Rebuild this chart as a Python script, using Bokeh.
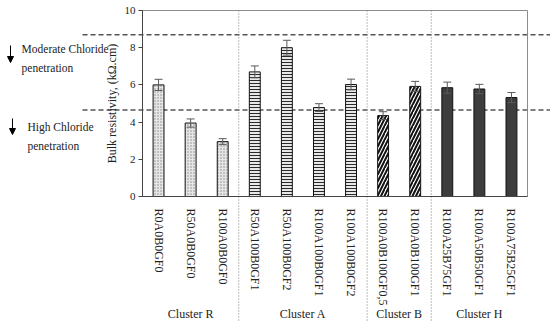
from bokeh.plotting import figure
from bokeh.models import (Range1d, ColumnDataSource, Whisker, TeeHead,
                          Arrow, NormalHead, Label, FixedTicker)
from bokeh.core.properties import value
from bokeh.embed import file_html
from bokeh.resources import INLINE

# ---- data ----
clusters = ["Cluster R"] * 3 + ["Cluster A"] * 4 + ["Cluster B"] * 2 + ["Cluster H"] * 3
mixes = ["R0A0B0GF0", "R50A0B0GF0", "R100A0B0GF0",
         "R50A100B0GF1", "R50A100B0GF2", "R100A100B0GF1", "R100A100B0GF2",
         "R100A0B100GF0,5", "R100A0B100GF1",
         "R100A25B75GF1", "R100A50B50GF1", "R100A75B25GF1"]
resistivity = [6.0, 3.95, 2.95, 6.7, 8.0, 4.78, 6.02, 4.35, 5.92, 5.85, 5.78, 5.32]
error = [0.3, 0.22, 0.16, 0.32, 0.4, 0.21, 0.29, 0.21, 0.27, 0.3, 0.25, 0.27]
cluster_order = ["Cluster R", "Cluster A", "Cluster B", "Cluster H"]
thresholds = [8.7, 4.65]
threshold_text = [("Moderate Chloride", "penetration"), ("High Chloride", "penetration")]
y_ticks = [0, 2, 4, 6, 8, 10]

SERIF = "Liberation Serif"
TXT = "#222222"

xs = [i + 0.5 for i in range(len(mixes))]
n_bars = len(mixes)

# the frame fills the whole canvas; axes are drawn at fixed data locations
p = figure(x_range=Range1d(-4.426, 12.717), y_range=Range1d(-6.774, 10.538),
           width=550, height=322,
           min_border_left=0, min_border_right=0, min_border_top=0, min_border_bottom=0,
           output_backend="svg", toolbar_location=None)
p.outline_line_color = None
p.xgrid.visible = False
p.ygrid.visible = False
p.background_fill_color = "white"
p.border_fill_color = "white"

# threshold dashed lines (behind the bars)
p.segment(x0=[-1.87] * len(thresholds), x1=[p.x_range.end] * len(thresholds),
          y0=thresholds, y1=thresholds,
          line_color="#555555", line_width=1.5, line_dash="5 3")

# dotted separators between clusters
bounds = []
n = 0
for c in cluster_order[:-1]:
    n += clusters.count(c)
    bounds.append(n)
p.segment(x0=bounds, x1=bounds, y0=[y_ticks[-1]] * len(bounds), y1=[p.y_range.start] * len(bounds),
          line_color="#777777", line_width=1, line_dash="1 2")

# plot box
p.quad(left=[0], right=[n_bars], bottom=[y_ticks[0]], top=[y_ticks[-1]],
       fill_color=None, line_color="#8c8c8c", line_width=1)

styles = {
    "Cluster R": dict(fill_color="#e6e6e6", hatch_pattern="dot", hatch_color="#8a8a8a",
                      hatch_scale=3, hatch_weight=1),
    "Cluster A": dict(fill_color="#e8e8e8", hatch_pattern="horizontal_line", hatch_color="#2a2a2a",
                      hatch_scale=3, hatch_weight=1),
    "Cluster B": dict(fill_color="white", hatch_pattern="right_diagonal_line", hatch_color="#111111",
                      hatch_scale=7, hatch_weight=2),
    "Cluster H": dict(fill_color="#3d3d3d"),
}

for c in cluster_order:
    idx = [i for i, cl in enumerate(clusters) if cl == c]
    src = ColumnDataSource(dict(x=[xs[i] for i in idx], top=[resistivity[i] for i in idx]))
    p.vbar(x="x", top="top", width=0.34, source=src, line_color="#111111", line_width=1,
           **styles[c])

err_src = ColumnDataSource(dict(
    x=xs,
    upper=[v + e for v, e in zip(resistivity, error)],
    lower=[v - e for v, e in zip(resistivity, error)],
))
p.add_layout(Whisker(base="x", upper="upper", lower="lower", source=err_src,
                     line_color="#5a5a5a", line_width=1, level="annotation",
                     upper_head=TeeHead(size=8, line_color="#5a5a5a", line_width=1),
                     lower_head=TeeHead(size=8, line_color="#5a5a5a", line_width=1)))

# cluster labels
centers = []
for c in cluster_order:
    idx = [i for i, cl in enumerate(clusters) if cl == c]
    centers.append((min(idx) + max(idx) + 1) / 2)
p.text(x=centers, y=[-6.34] * len(centers), text=cluster_order,
       text_font=value(SERIF), text_font_size="12px", text_color=TXT,
       text_align="center", text_baseline="middle")

# left annotations with down arrows
arrow_pos = [(-4.114, 8.118, 7.204), (-4.052, 4.194, 3.333)]
text_pos = [(-3.77, 7.957, 6.935), (-3.585, 3.763, 2.742)]
for (ax, ys, ye), (tx, ty1, ty2), (l1, l2) in zip(arrow_pos, text_pos, threshold_text):
    p.add_layout(Arrow(end=NormalHead(size=6, fill_color="black", line_color="black"),
                       x_start=ax, y_start=ys, x_end=ax, y_end=ye,
                       line_color="black", line_width=1))
    for ty, txt in ((ty1, l1), (ty2, l2)):
        p.add_layout(Label(x=tx, y=ty, text=txt, text_font=SERIF, text_font_size="11.5px",
                           text_baseline="middle", text_align="left", text_color=TXT))

# y axis at x = 0
yax = p.yaxis[0]
yax.fixed_location = 0
yax.bounds = (y_ticks[0], y_ticks[-1])
yax.ticker = FixedTicker(ticks=y_ticks)
yax.axis_label = "Bulk resistivity, (kΩ.cm)"
yax.axis_label_text_font = SERIF
yax.axis_label_text_font_style = "normal"
yax.axis_label_text_font_size = "12px"
yax.axis_label_text_color = TXT
yax.axis_label_standoff = 3
yax.major_label_text_font = SERIF
yax.major_label_text_font_size = "11px"
yax.major_label_text_color = TXT
yax.major_label_standoff = 3
yax.major_tick_in = 0
yax.major_tick_out = 4
yax.minor_tick_line_color = None
yax.axis_line_color = "#444444"
yax.major_tick_line_color = "#444444"

# x axis at y = 0
xax = p.xaxis[0]
xax.fixed_location = 0
xax.bounds = (0, n_bars)
xax.ticker = FixedTicker(ticks=xs)
xax.major_label_overrides = {x: m for x, m in zip(xs, mixes)}
xax.major_label_orientation = "vertical"
xax.major_label_text_font = SERIF
xax.major_label_text_font_size = "12px"
xax.major_label_text_color = TXT
xax.major_label_standoff = 6
xax.major_tick_line_color = None
xax.minor_tick_line_color = None
xax.axis_line_color = "#444444"

open("out.html", "w").write(file_html(p, INLINE))
